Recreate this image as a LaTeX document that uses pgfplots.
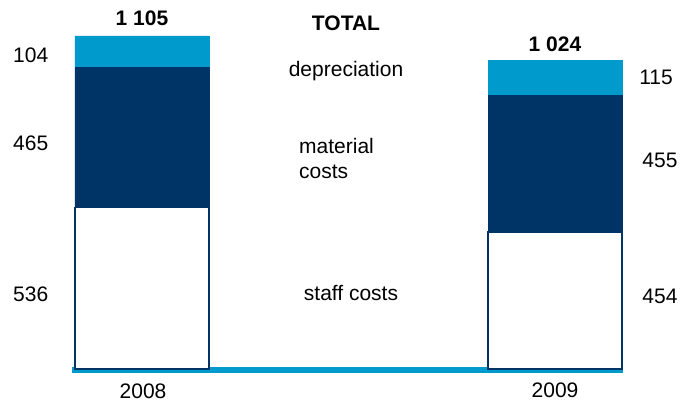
\documentclass[border=0pt]{standalone}
\usepackage{fontspec}
\setmainfont{Liberation Sans}
\usepackage{pgfplots}
\pgfplotsset{compat=1.18}
\definecolor{navy}{RGB}{0,51,102}
\definecolor{lblue}{RGB}{0,155,204}
\tikzset{lab/.style={font=\fontsize{21bp}{25bp}\selectfont, inner sep=0pt, text=black}}
\begin{document}
\begin{tikzpicture}
\begin{axis}[
  scale only axis, width=683bp, height=403bp,
  xmin=-0.3438, xmax=1.3099, ymin=-112.8, ymax=1224.3,
  axis lines=none, clip=false,
  ybar stacked, bar width=134bp,
]
\path (rel axis cs:0,0) rectangle (rel axis cs:1,1);
\addplot[fill=white, draw=navy, line width=1.5bp] coordinates {(0,536) (1,454)};
\addplot[fill=navy, draw=navy, line width=0.4bp] coordinates {(0,465) (1,455)};
\addplot[fill=lblue, draw=lblue, line width=0.4bp] coordinates {(0,104) (1,115)};
\draw[lblue, line width=6bp] (axis cs:-0.1695,-2) -- (axis cs:1.1646,-2);

\node[lab, font=\fontsize{21bp}{25bp}\selectfont\bfseries] at (rel axis cs:0.2079,0.9553) {1 105};
\node[lab, font=\fontsize{21bp}{25bp}\selectfont\bfseries] at (rel axis cs:0.5066,0.9429) {TOTAL};
\node[lab, font=\fontsize{21bp}{25bp}\selectfont\bfseries] at (rel axis cs:0.8126,0.8908) {1 024};
\node[lab, anchor=west] at (rel axis cs:0.019,0.8635) {104};
\node[lab, anchor=west] at (rel axis cs:0.019,0.6452) {465};
\node[lab, anchor=west] at (rel axis cs:0.019,0.2700) {536};
\node[lab] at (rel axis cs:0.5066,0.8238) {depreciation};
\node[lab, anchor=west, align=left] at (rel axis cs:0.4378,0.6079) {material\\costs};
\node[lab] at (rel axis cs:0.5139,0.2730) {staff costs};
\node[lab] at (rel axis cs:0.9605,0.8089) {115};
\node[lab] at (rel axis cs:0.9663,0.6030) {455};
\node[lab] at (rel axis cs:0.9663,0.2655) {454};
\node[lab] at (rel axis cs:0.2094,0.0298) {2008};
\node[lab] at (rel axis cs:0.8126,0.0323) {2009};
\end{axis}
\end{tikzpicture}
\end{document}
